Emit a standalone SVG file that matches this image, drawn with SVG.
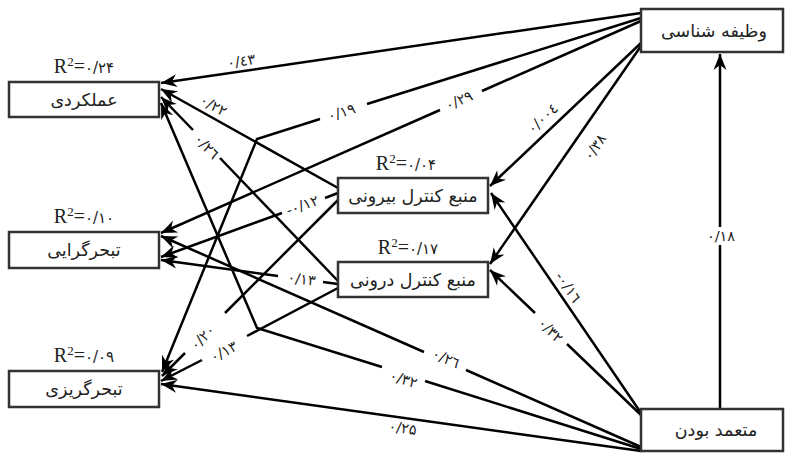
<svg xmlns="http://www.w3.org/2000/svg" width="785" height="453" viewBox="0 0 785 453">
<style>
.box{fill:#fff;stroke:#333;stroke-width:2.5}
.bt{font-family:"DejaVu Sans","Noto Sans",sans-serif;font-size:17.5px;fill:#222;text-anchor:middle}
.r2{font-family:"Liberation Serif","DejaVu Sans",serif;font-size:20px;fill:#222;text-anchor:middle}
.r2 .d{font-family:"DejaVu Sans",sans-serif;font-size:15px}
.ln{fill:none;stroke:#000;stroke-width:2.5}
.lb{font-family:"DejaVu Sans",sans-serif;font-size:14.5px;fill:#222;text-anchor:middle}
</style>
<defs>
<marker id="ah" markerUnits="userSpaceOnUse" markerWidth="18" markerHeight="14" viewBox="-17 -7 18 14" refX="0" refY="0" orient="auto">
<path d="M0,0 L-16,-6.5 L-11,0 L-16,6.5 Z" fill="#000"/>
</marker>
</defs>
<rect width="785" height="453" fill="#fff"/>
<g id="connectors">
<polyline class="ln" points="641,13 161,83" marker-end="url(#ah)"/>
<polyline class="ln" points="641,18 367,104"/>
<polyline class="ln" points="320,119 257,139 162,372" marker-end="url(#ah)"/>
<polyline class="ln" points="641,21 482,91"/>
<polyline class="ln" points="440,110 161,233" marker-end="url(#ah)"/>
<polyline class="ln" points="641,43 490,186" marker-end="url(#ah)"/>
<polyline class="ln" points="641,46 490,264" marker-end="url(#ah)"/>
<polyline class="ln" points="720,409 720,245"/>
<polyline class="ln" points="720,227 720,54" marker-end="url(#ah)"/>
<polyline class="ln" points="641,413 491,193" marker-end="url(#ah)"/>
<polyline class="ln" points="641,415 567,344"/>
<polyline class="ln" points="535,313 490,270" marker-end="url(#ah)"/>
<polyline class="ln" points="641,447 466,370"/>
<polyline class="ln" points="424,352 161,236" marker-end="url(#ah)"/>
<polyline class="ln" points="641,449 425,381"/>
<polyline class="ln" points="382,367 257,328 161,103" marker-end="url(#ah)"/>
<polyline class="ln" points="641,451 161,384" marker-end="url(#ah)"/>
<polyline class="ln" points="338,188 161,89" marker-end="url(#ah)"/>
<polyline class="ln" points="338,281 220,158"/>
<polyline class="ln" points="193,130 161,97" marker-end="url(#ah)"/>
<polyline class="ln" points="338,193 325,198"/>
<polyline class="ln" points="282,213 161,257" marker-end="url(#ah)"/>
<polyline class="ln" points="338,284 323,282"/>
<polyline class="ln" points="278,276 161,260" marker-end="url(#ah)"/>
<polyline class="ln" points="338,200 225,313"/>
<polyline class="ln" points="185,353 162,376" marker-end="url(#ah)"/>
<polyline class="ln" points="338,288 247,336"/>
<polyline class="ln" points="202,360 161,381" marker-end="url(#ah)"/>
<text class="lb" transform="translate(242,66) rotate(-8.4)">۰/٤٣</text>
<text class="lb" transform="translate(343,117) rotate(-17.4)">۰/۱۹</text>
<text class="lb" transform="translate(461,105) rotate(-23.8)">۰/۲۹</text>
<text class="lb" transform="translate(546,122) rotate(-43.5)">۰/۰۰٤</text>
<text class="lb" transform="translate(599,150) rotate(-55.3)">۰/۳۸</text>
<text class="lb" x="721" y="241">۰/۱۸</text>
<text class="lb" transform="translate(564,290) rotate(55.7)">-۰/۱٦</text>
<text class="lb" transform="translate(547,334) rotate(43.8)">۰/۳۲</text>
<text class="lb" transform="translate(444,363) rotate(23.7)">۰/۲٦</text>
<text class="lb" transform="translate(402,384) rotate(17.5)">۰/۳۲</text>
<text class="lb" transform="translate(402,433) rotate(8)">۰/۲۵</text>
<text class="lb" transform="translate(211,110) rotate(29.2)">۰/۲۲</text>
<text class="lb" transform="translate(203,150) rotate(46)">۰/۲٦</text>
<text class="lb" transform="translate(304,210) rotate(-19.9)">-۰/۱۲</text>
<text class="lb" transform="translate(301,284) rotate(7.7)">۰/۱۳</text>
<text class="lb" transform="translate(206,341) rotate(-45)">۰/۲۰</text>
<text class="lb" transform="translate(226,356) rotate(-27.7)">۰/۱۳</text>
</g>
<g id="n-amalkardi">
<rect class="box" x="9" y="82" width="150" height="35"/>
<text class="bt" x="84" y="106">عملکردی</text>
<text class="r2" x="84" y="73">R<tspan dy="-7" font-size="13">2</tspan><tspan dy="7">=</tspan><tspan class="d">۰/۲۴</tspan></text>
</g>
<g id="n-gerayi">
<rect class="box" x="9" y="232" width="150" height="36"/>
<text class="bt" x="84" y="256">تبحرگرایی</text>
<text class="r2" x="84" y="223">R<tspan dy="-7" font-size="13">2</tspan><tspan dy="7">=</tspan><tspan class="d">۰/۱۰</tspan></text>
</g>
<g id="n-gorizi">
<rect class="box" x="9" y="371" width="150" height="36"/>
<text class="bt" x="84" y="395">تبحرگریزی</text>
<text class="r2" x="84" y="362">R<tspan dy="-7" font-size="13">2</tspan><tspan dy="7">=</tspan><tspan class="d">۰/۰۹</tspan></text>
</g>
<g id="n-biruni">
<rect class="box" x="338" y="178" width="150" height="35"/>
<text class="bt" x="413" y="202">منبع کنترل بیرونی</text>
<text class="r2" x="406" y="170">R<tspan dy="-7" font-size="13">2</tspan><tspan dy="7">=</tspan><tspan class="d">۰/۰۴</tspan></text>
</g>
<g id="n-daruni">
<rect class="box" x="338" y="262" width="150" height="35"/>
<text class="bt" x="413" y="286">منبع کنترل درونی</text>
<text class="r2" x="408" y="254">R<tspan dy="-7" font-size="13">2</tspan><tspan dy="7">=</tspan><tspan class="d">۰/۱۷</tspan></text>
</g>
<g id="n-vazifeh">
<rect class="box" x="641" y="9" width="142" height="43"/>
<text class="bt" x="714" y="37">وظیفه شناسی</text>
</g>
<g id="n-mote">
<rect class="box" x="641" y="409" width="142" height="42"/>
<text class="bt" x="716" y="436">متعمد بودن</text>
</g>
</svg>
